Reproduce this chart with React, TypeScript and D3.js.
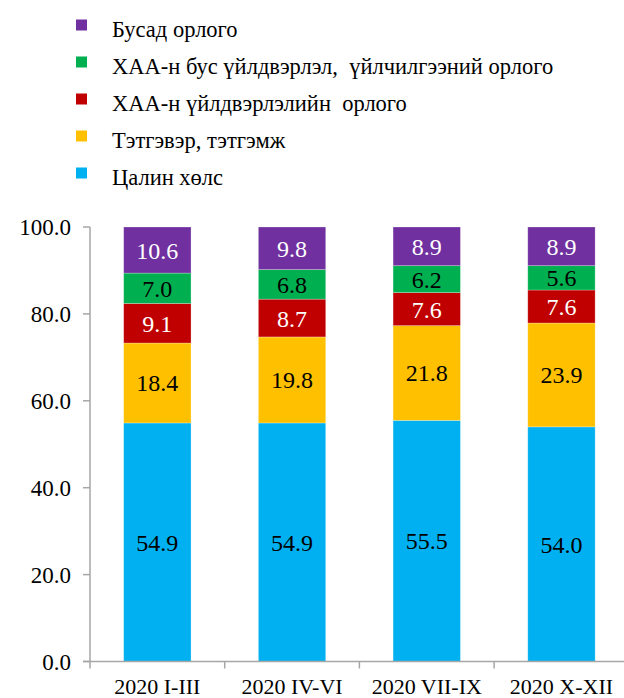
import React from 'react'
import * as d3 from 'd3'

const categories = ['2020 I-III', '2020 IV-VI', '2020 VII-IX', '2020 X-XII']
const seriesNames = [
  'Цалин хөлс',
  'Тэтгэвэр, тэтгэмж',
  'ХАА-н үйлдвэрлэлийн  орлого',
  'ХАА-н бус үйлдвэрлэл,  үйлчилгээний орлого',
  'Бусад орлого',
]
const seriesColors = ['#00B0F0', '#FFC000', '#C00000', '#00B050', '#7030A0']
const labelColors = ['#000', '#000', '#fff', '#000', '#fff']

const wages = [54.9, 54.9, 55.5, 54.0]
const pensions = [18.4, 19.8, 21.8, 23.9]
const agriIncome = [9.1, 8.7, 7.6, 7.6]
const nonAgriIncome = [7.0, 6.8, 6.2, 5.6]
const otherIncome = [10.6, 9.8, 8.9, 8.9]

const yTicks = [0, 20, 40, 60, 80, 100]

const W = 624
const H = 698
const FONT = "'Liberation Serif', 'Times New Roman', Times, 'DejaVu Serif', serif"

export default function App() {
  const rows = categories.map((c, i) => ({
    cat: c,
    s0: wages[i],
    s1: pensions[i],
    s2: agriIncome[i],
    s3: nonAgriIncome[i],
    s4: otherIncome[i],
  }))
  const keys = ['s0', 's1', 's2', 's3', 's4']
  const stacked = d3.stack<any>().keys(keys)(rows)

  const x = d3.scaleBand<string>().domain(categories).range([90, 90 + 4 * 134.7]).paddingInner(0.5).paddingOuter(0.25)
  const y = d3.scaleLinear().domain([0, 100]).range([661.5, 227])

  const axisColor = '#A6A6A6'
  const step = x.step()
  const x0 = 90

  // legend, top row is the last series
  const legendOrder = [4, 3, 2, 1, 0]

  return (
    <svg width={W} height={H} style={{ position: 'absolute', left: 0, top: 0, fontFamily: FONT }}>
      <rect width={W} height={H} fill="#fff" />

      {legendOrder.map((si, i) => {
        const cy = 25 + i * 37
        return (
          <g key={si}>
            <rect x={76} y={cy - 5.5} width={11} height={11} fill={seriesColors[si]} />
            <text x={112} y={cy + 12} fontSize={22.5} fill="#000" style={{ whiteSpace: 'pre' }}>
              {seriesNames[si]}
            </text>
          </g>
        )
      })}

      {stacked.map((layer, si) => (
        <g key={si}>
          {layer.map((d, ci) => {
            const top = y(d[1])
            const bot = y(d[0])
            const bx = x(categories[ci]) as number
            const v = d[1] - d[0]
            return (
              <g key={ci}>
                <rect x={bx} y={top} width={x.bandwidth()} height={bot - top} fill={seriesColors[si]}
                  stroke="#fff" strokeOpacity={0.35} strokeWidth={0.75} />
                <text x={bx + x.bandwidth() / 2} y={(top + bot) / 2 + 8.5} textAnchor="middle"
                  fontSize={24} fill={labelColors[si]}>
                  {v.toFixed(1)}
                </text>
              </g>
            )
          })}
        </g>
      ))}

      {/* y axis */}
      <line x1={x0} x2={x0} y1={y(100)} y2={y(0)} stroke={axisColor} strokeWidth={1.5} />
      {yTicks.map(t => (
        <g key={t}>
          <line x1={x0 - 7} x2={x0} y1={y(t)} y2={y(t)} stroke={axisColor} strokeWidth={1.5} />
          <text x={71} y={y(t) + 8} textAnchor="end" fontSize={23} fill="#000">{t.toFixed(1)}</text>
        </g>
      ))}

      {/* x axis */}
      <line x1={x0 - 7} x2={W} y1={y(0)} y2={y(0)} stroke={axisColor} strokeWidth={1.5} />
      {d3.range(categories.length + 1).map(i => (
        <line key={i} x1={x0 + i * step} x2={x0 + i * step} y1={y(0)} y2={y(0) + 7} stroke={axisColor} strokeWidth={1.5} />
      ))}
      {categories.map(c => (
        <text key={c} x={(x(c) as number) + x.bandwidth() / 2} y={694} textAnchor="middle" fontSize={22} fill="#000">{c}</text>
      ))}
    </svg>
  )
}
